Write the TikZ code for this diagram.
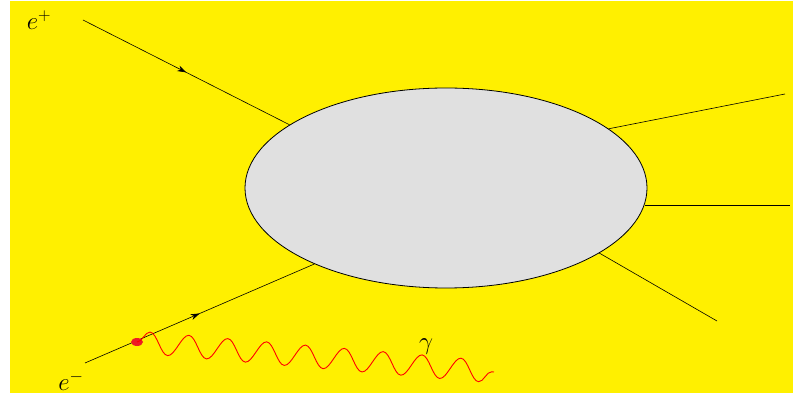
\documentclass[tikz,border=0pt]{standalone}
\usetikzlibrary{shapes.geometric,decorations.pathmorphing,decorations.markings,arrows.meta}
\definecolor{bgyellow}{RGB}{255,240,0}
\definecolor{blobgray}{RGB}{224,224,224}
\definecolor{dotred}{RGB}{237,28,36}
\begin{document}
\begin{tikzpicture}[x=1pt,y=1pt,
  fermion/.style={line width=0.6pt,postaction={decorate},
    decoration={markings,mark=at position 0.5 with {\arrow{Stealth[length=9pt,width=6pt]}}}},
  outline/.style={line width=0.6pt},
  photon/.style={draw=red,line width=0.9pt,decorate,
    decoration={snake,segment length=39pt,amplitude=11pt}},
  lbl/.style={font=\fontsize{25}{30}\selectfont,inner sep=0pt}]
\useasboundingbox (0,0) rectangle (793,394);
\fill[bgyellow] (10,1) rectangle (793,393);
\node[ellipse,draw,fill=blobgray,line width=0.8pt,minimum width=402pt,minimum height=200pt,inner sep=0pt] (blob) at (446,206) {};
\coordinate (ep) at (83,374);
\coordinate (em) at (85,31);
\coordinate (o1) at (785,300);
\coordinate (o2) at (790,189);
\coordinate (o3) at (717,73);
\coordinate (gend) at (494,22);
\draw[fermion] (ep) -- (blob.158.6);
\draw[fermion] (em) -- (blob.210);
\draw[outline] (blob.20.1) -- (o1);
\draw[outline] (blob.-4.8 |- o2) -- (o2);
\draw[outline] (blob.-23.5) -- (o3);
\node[ellipse,fill=dotred,minimum width=12pt,minimum height=8pt,inner sep=0pt] (dot) at (137,52) {};
\draw[photon] (dot.center) -- (gend);
\node[lbl] (ga) at (426,47) {$\gamma$};
\node[lbl] (elp) at (39,374) {$e^{+}$};
\node[lbl] (elm) at (71,13) {$e^{-}$};
\end{tikzpicture}
\end{document}
